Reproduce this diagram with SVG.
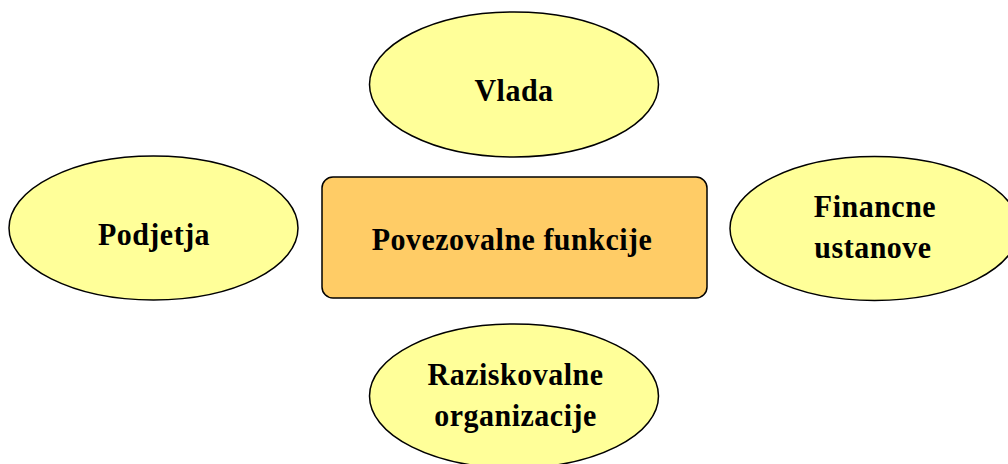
<svg xmlns="http://www.w3.org/2000/svg" width="1008" height="464" viewBox="0 0 1008 464">
  <style>
    .oval { fill: #FFFF99; stroke: #000; stroke-width: 1.5; }
    .box { fill: #FFCC66; stroke: #000; stroke-width: 1.5; }
    .lbl { font-family: "Liberation Serif", "Times New Roman", serif; font-weight: bold; font-size: 30px; letter-spacing: 0.5px; fill: #000; text-anchor: middle; }
  </style>
  <rect width="1008" height="464" fill="#fff"/>
  <g id="connectors"></g>
  <g id="vlada">
    <ellipse class="oval" cx="514" cy="84.5" rx="144.5" ry="72.5"/>
    <text class="lbl" transform="translate(514 101) scale(1 1.07)">Vlada</text>
  </g>
  <g id="podjetja">
    <ellipse class="oval" cx="153.5" cy="228" rx="144.5" ry="72"/>
    <text class="lbl" transform="translate(154 245) scale(1 1.07)">Podjetja</text>
  </g>
  <g id="povezovalne-funkcije">
    <rect class="box" x="322" y="177" width="385" height="121" rx="11" ry="11"/>
    <text class="lbl" transform="translate(512 250) scale(1 1.07)">Povezovalne funkcije</text>
  </g>
  <g id="financne-ustanove">
    <ellipse class="oval" cx="874.5" cy="228.5" rx="144.5" ry="72"/>
    <text class="lbl" transform="translate(875 217) scale(1 1.07)">Financne</text>
    <text class="lbl" transform="translate(873 258) scale(1 1.07)">ustanove</text>
  </g>
  <g id="raziskovalne-organizacije">
    <ellipse class="oval" cx="514" cy="396" rx="144.5" ry="72"/>
    <text class="lbl" transform="translate(515.5 385) scale(1 1.07)">Raziskovalne</text>
    <text class="lbl" transform="translate(515.5 426) scale(1 1.07)">organizacije</text>
  </g>
</svg>
